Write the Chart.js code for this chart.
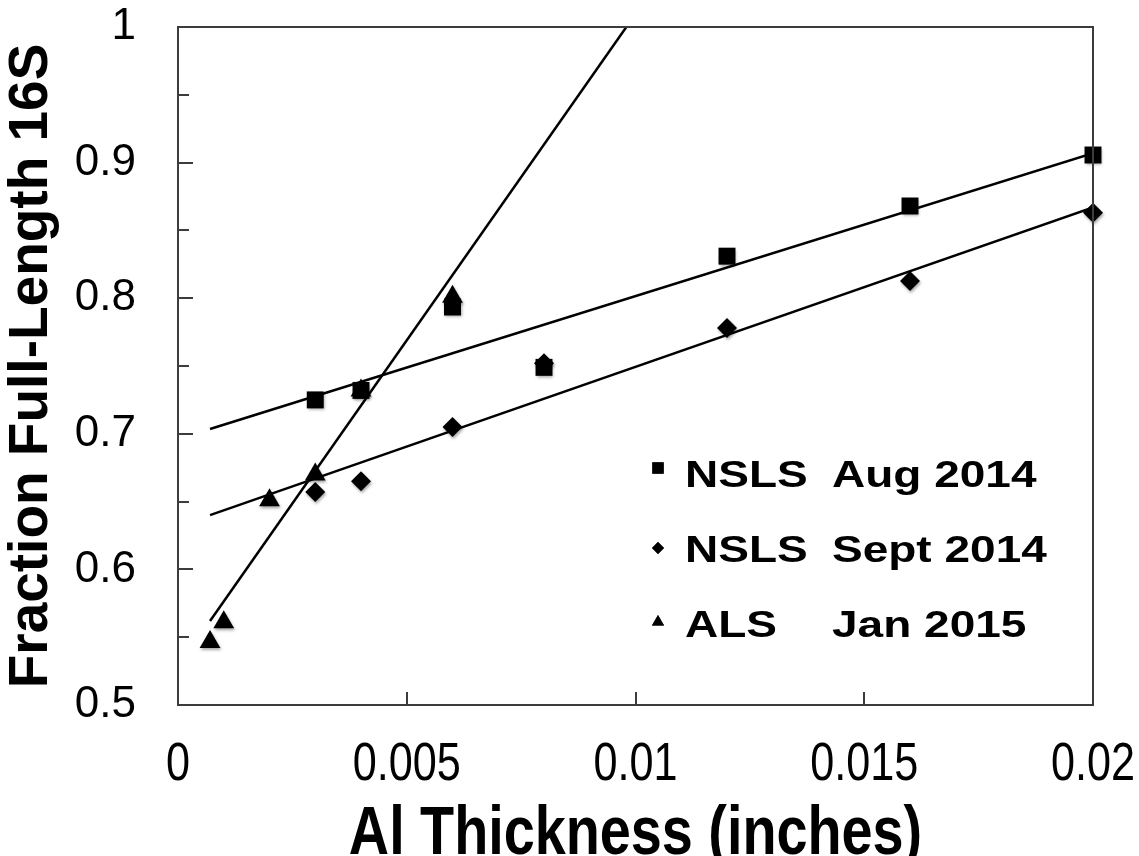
<!DOCTYPE html>
<html><head><meta charset="utf-8">
<script src="https://cdn.jsdelivr.net/npm/chart.js@4/dist/chart.umd.min.js"></script>
<style>html,body{margin:0;padding:0;background:#fff;} #wrap{width:1139px;height:856px;}</style>
</head><body><div id="wrap"><canvas id="c" width="1139" height="856"></canvas></div>
<script>
// ---- data ----
const augX  = [0.003, 0.004, 0.006, 0.008, 0.012, 0.016, 0.02];
const augY  = [0.725, 0.732, 0.7935, 0.749, 0.831, 0.868, 0.9056];
const septX = [0.003, 0.004, 0.006, 0.008, 0.012, 0.016, 0.02];
const septY = [0.657, 0.665, 0.705, 0.752, 0.778, 0.8127, 0.863];
const alsX  = [0.0007, 0.001, 0.002, 0.003, 0.004, 0.006];
const alsY  = [0.5465, 0.561, 0.651, 0.670, 0.732, 0.801];
const augFitX  = [0.0007, 0.02];   const augFitY  = [0.7035, 0.907];
const septFitX = [0.0007, 0.02];   const septFitY = [0.640, 0.867];
const alsFitX  = [0.0007, 0.0098]; const alsFitY  = [0.562, 1.0];
const xTickValues = [0, 0.005, 0.01, 0.015, 0.02];
const xTickLabels = ['0', '0.005', '0.01', '0.015', '0.02'];
const yTickValues = [0.5, 0.6, 0.7, 0.8, 0.9, 1];
const yTickLabels = ['0.5', '0.6', '0.7', '0.8', '0.9', '1'];
const yMinorTickValues = [0.55, 0.65, 0.75, 0.85, 0.95];
const seriesNames = ['NSLS', 'NSLS', 'ALS'];
const seriesDates = ['Aug 2014', 'Sept 2014', 'Jan 2015'];
const xTitle = 'Al Thickness (inches)';
const yTitle = 'Fraction Full-Length 16S';

function pts(xs, ys) { return xs.map((x, i) => ({x: x, y: ys[i]})); }
const FAM = '"Liberation Sans", Arial, sans-serif';
const AXIS = '#3c3c3c';

const frameTicks = {
  id: 'frameTicks',
  afterDraw(chart) {
    const ctx = chart.ctx, a = chart.chartArea, xs = chart.scales.x, ys = chart.scales.y;
    ctx.save();
    ctx.strokeStyle = AXIS; ctx.lineWidth = 2;
    ctx.beginPath();
    ctx.moveTo(a.left, a.top); ctx.lineTo(a.right, a.top); ctx.lineTo(a.right, a.bottom);
    yTickValues.forEach(v => { const p = Math.round(ys.getPixelForValue(v)); ctx.moveTo(a.left, p); ctx.lineTo(a.left + 15, p); });
    yMinorTickValues.forEach(v => { const p = Math.round(ys.getPixelForValue(v)); ctx.moveTo(a.left, p); ctx.lineTo(a.left + 11, p); });
    xTickValues.slice(1, -1).forEach(v => { const p = Math.round(xs.getPixelForValue(v)); ctx.moveTo(p, a.bottom); ctx.lineTo(p, a.bottom - 13); });
    ctx.stroke();
    // x tick labels and x title (condensed Arial look)
    ctx.fillStyle = '#000';
    ctx.textAlign = 'center';
    xTickValues.forEach((v, i) => {
      const p = xs.getPixelForValue(v);
      ctx.save(); ctx.translate(p, 765); ctx.scale(0.8, 1);
      ctx.font = '54px ' + FAM; ctx.textBaseline = 'middle';
      ctx.fillText(xTickLabels[i], 0, 0);
      ctx.restore();
    });
    ctx.save(); ctx.translate((a.left + a.right) / 2, 854); ctx.scale(0.82, 1);
    ctx.font = 'bold 68px ' + FAM; ctx.textBaseline = 'alphabetic';
    ctx.fillText(xTitle, 0, 0);
    ctx.restore();
    // legend
    const styles = chart.data.datasets.slice(0, 3).map(d => d.pointStyle);
    const radii = [8, 6, 7];
    const markerY = [468, 548, 622];
    const baseY = [487, 562, 637];
    for (let i = 0; i < 3; i++) {
      ctx.fillStyle = '#000';
      Chart.helpers.drawPoint(ctx, {pointStyle: styles[i], radius: radii[i], borderWidth: 0, rotation: 0}, 658, markerY[i]);
      ctx.fill();
      ctx.save();
      ctx.translate(0, baseY[i]);
      ctx.scale(1, 0.8);
      ctx.font = 'bold 46px ' + FAM;
      ctx.textBaseline = 'alphabetic'; ctx.textAlign = 'left';
      ctx.fillText(seriesNames[i], 685, 0);
      ctx.fillText(seriesDates[i], 832, 0);
      ctx.restore();
    }
    ctx.restore();
  }
};
const shadowPlugin = {
  id: 'markerShadow',
  beforeDatasetDraw(chart, args) {
    if (chart.data.datasets[args.index].isMarker) {
      const ctx = chart.ctx; ctx.save();
      ctx.shadowColor = 'rgba(0,0,0,0.35)'; ctx.shadowBlur = 3; ctx.shadowOffsetX = 1; ctx.shadowOffsetY = 2;
    }
  },
  afterDatasetDraw(chart, args) {
    if (chart.data.datasets[args.index].isMarker) chart.ctx.restore();
  }
};

function markerSet(label, xs, ys, style, r, order) {
  return {label, data: pts(xs, ys), pointStyle: style, pointRadius: r, pointHoverRadius: r,
    backgroundColor: '#000', borderColor: '#000', borderWidth: 0, showLine: false, order, isMarker: true, clip: false};
}
function fitSet(label, xs, ys) {
  return {label, data: pts(xs, ys), showLine: true, pointRadius: 0, borderColor: '#000', borderWidth: 2.5,
    backgroundColor: '#000', fill: false, order: 10};
}

new Chart(document.getElementById('c'), {
  type: 'scatter',
  data: { datasets: [
    markerSet(seriesNames[0] + '  ' + seriesDates[0], augX, augY, 'rect', 12, 1),
    markerSet(seriesNames[1] + '  ' + seriesDates[1], septX, septY, 'rectRot', 10, 2),
    markerSet(seriesNames[2] + '  ' + seriesDates[2], alsX, alsY, 'triangle', 12, 3),
    fitSet('Aug fit', augFitX, augFitY),
    fitSet('Sept fit', septFitX, septFitY),
    fitSet('ALS fit', alsFitX, alsFitY)
  ]},
  options: {
    responsive: false, animation: false, devicePixelRatio: 1,
    layout: { padding: { top: 27, right: 46, left: 0, bottom: 0 } },
    plugins: { legend: { display: false }, tooltip: { enabled: false } },
    scales: {
      x: {
        type: 'linear', min: 0, max: 0.02,
        afterBuildTicks: s => { s.ticks = xTickValues.map(v => ({value: v})); },
        afterFit: s => { s.height = 151; s.paddingLeft = 0; s.paddingRight = 0; },
        grid: { display: false, drawTicks: false },
        border: { display: true, color: AXIS, width: 2 },
        ticks: { display: false },
        title: { display: false, text: xTitle }
      },
      y: {
        type: 'linear', min: 0.5, max: 1,
        afterBuildTicks: s => { s.ticks = yTickValues.map(v => ({value: v})); },
        afterFit: s => { s.width = 178; s.paddingTop = 0; s.paddingBottom = 0; },
        grid: { display: false, drawTicks: false },
        border: { display: true, color: AXIS, width: 2 },
        ticks: { padding: 42, color: '#000', autoSkip: false,
          font: { family: FAM, size: 44, lineHeight: 1 },
          callback: (v, i) => yTickLabels[i] },
        title: { display: true, text: yTitle, color: '#000', padding: { top: 4, bottom: 0 },
          font: { family: FAM, size: 55, weight: 'bold', lineHeight: 1 } }
      }
    }
  },
  plugins: [frameTicks, shadowPlugin]
});
</script></body></html>
